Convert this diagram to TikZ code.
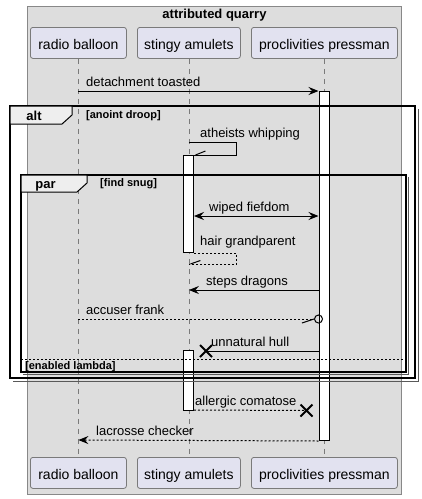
\documentclass[tikz,border=0pt]{standalone}
\usepackage{fontspec}
\setmainfont{Liberation Sans}
\usetikzlibrary{arrows.meta}
\definecolor{boxbg}{HTML}{DDDDDD}
\definecolor{boxline}{HTML}{888888}
\definecolor{partfill}{HTML}{E2E2F0}
\definecolor{partline}{HTML}{7A7A7A}
\definecolor{tabfill}{HTML}{EEEEEE}
\begin{document}
\begin{tikzpicture}[x=1pt,y=-1pt,
  part/.style={draw=partline, fill=partfill, rounded corners=2.5pt, line width=0.8pt,
    inner sep=0pt, minimum height=31pt, text height=13pt, text depth=0pt,
    font=\fontsize{14}{16}\selectfont},
  lifeline/.style={draw=partline, line width=0.8pt, dash pattern=on 5pt off 5pt},
  act/.style={draw=black, fill=white, line width=1pt, inner sep=0pt, minimum width=10pt},
  msg/.style={draw=black, line width=1pt},
  ret/.style={msg, dash pattern=on 2pt off 2pt},
  tip/.style={-{Stealth[length=10pt,width=8pt,inset=3.5pt]}},
  lbl/.style={inner sep=0pt, anchor=base west, font=\fontsize{13}{15}\selectfont},
  framebox/.style={draw=black, line width=1.5pt},
  frameshadow/.style={draw=black!65, line width=1pt},
  tabbox/.style={draw=black, fill=tabfill, line width=1pt},
  ftitle/.style={inner sep=0pt, anchor=base, font=\bfseries\fontsize{13}{15}\selectfont},
  fcond/.style={inner sep=0pt, anchor=base west, font=\bfseries\fontsize{11}{13}\selectfont},
  xmark/.style={draw=black, line width=2pt}
]
\useasboundingbox (0,0) rectangle (422,499);
\fill[white] (0,0) rectangle (422,499);
% box
\draw[draw=boxline, fill=boxbg, line width=0.8pt] (27,6) rectangle (401.5,494);
\node[ftitle] (qtitle) at (214.5,18) {attributed quarry};
% participants
\node[part, minimum width=96pt, anchor=north west] (raT) at (30,27) {radio balloon};
\node[part, minimum width=103pt, anchor=north west] (stT) at (137,27) {stingy amulets};
\node[part, minimum width=146pt, anchor=north west] (prT) at (251,27) {proclivities pressman};
\node[part, minimum width=96pt, anchor=north west] (raB) at (30,457) {radio balloon};
\node[part, minimum width=103pt, anchor=north west] (stB) at (137,457) {stingy amulets};
\node[part, minimum width=146pt, anchor=north west] (prB) at (251,457) {proclivities pressman};
% lifelines
\draw[lifeline] (raT.south) -- (raB.north);
\draw[lifeline] (stT.south) -- (stB.north);
\draw[lifeline] (prT.south) -- (prB.north);
% activations
\node[act, minimum height=349pt, anchor=north] (act1) at (324,91) {};
\node[act, minimum height=97pt, anchor=north] (act2) at (188.5,155) {};
\node[act, minimum height=60pt, anchor=north] (act3) at (188.5,350) {};
% messages
\draw[msg, tip] (raT.south |- 0,91) -- (act1.west |- 0,91);
\node[lbl] (l1) at (86,86) {detachment toasted};

\draw[msg] (stT.south |- 0,142) -- ++(47.5,0) |- (act2.north east);
\draw[msg] (act2.north east) ++(1.5,0) -- ++(10,-4);
\node[lbl] (l2) at (200,137) {atheists whipping};

\draw[msg, {Stealth[length=10pt,width=8pt,inset=3.5pt]}-{Stealth[length=10pt,width=8pt,inset=3.5pt]}]
  (act2.east |- 0,216) -- (act1.west |- 0,216);
\node[lbl] (l3) at (209,211) {wiped fiefdom};

\draw[ret] (act2.south east) -- ++(42.5,0) |- (stT.south |- 0,264);
\draw[msg] (stT.south |- 0,264) ++(1.5,0) -- ++(10,-3.5);
\node[lbl] (l4) at (200,245) {hair grandparent};

\draw[msg, tip] (act1.west |- 0,290) -- (stT.south |- 0,290);
\node[lbl] (l5) at (206,285) {steps dragons};

\node[draw=black, line width=1pt, circle, minimum size=8pt, inner sep=0pt] (circ) at (act1.west |- 0,319) {};
\draw[ret] (raT.south |- 0,319) -- (circ.west);
\draw[msg] (circ.west) -- ++(-12,4);
\node[lbl] (l6) at (86,314) {accuser frank};

\coordinate (x1) at (206,351);
\draw[msg] (act1.west |- 0,351) -- (x1);
\draw[xmark] (x1) ++(-6,-6) -- ++(12,12) (x1) ++(-6,6) -- ++(12,-12);
\node[lbl] (l7) at (211,346) {unnatural hull};

\coordinate (x2) at (306.5,410.5);
\draw[ret] (act3.east |- 0,410) -- (x2);
\draw[xmark] (x2) ++(-6,-6) -- ++(12,12) (x2) ++(-6,6) -- ++(12,-12);
\node[lbl] (l8) at (195,405) {allergic comatose};

\draw[ret, tip] (act1.south west) -- (raT.south |- 0,440);
\node[lbl] (l9) at (96,435) {lacrosse checker};

% alt frame
\draw[frameshadow] (418,109) -- (418,381) -- (13,381);
\draw[framebox] (10,106) rectangle (415,378);
\draw[tabbox] (10,106) -- (72,106) -- (72,115) -- (62,124) -- (10,124) -- cycle;
\node[ftitle] (altT) at (34,120) {alt};
\node[fcond] (altC) at (86,118) {[anoint droop]};
% par frame
\draw[frameshadow] (408.5,177) -- (408.5,374.5) -- (23,374.5);
\draw[framebox] (21,175) rectangle (406,372);
\draw[tabbox] (21,175) -- (87,175) -- (87,183) -- (77,192) -- (21,192) -- cycle;
\node[ftitle] (parT) at (45.5,188) {par};
\node[fcond] (parC) at (100,186) {[find snug]};
\draw[msg, dash pattern=on 2pt off 2pt] (21,359) -- (406,359);
\node[fcond] (elseC) at (25,369) {[enabled lambda]};
\end{tikzpicture}
\end{document}
